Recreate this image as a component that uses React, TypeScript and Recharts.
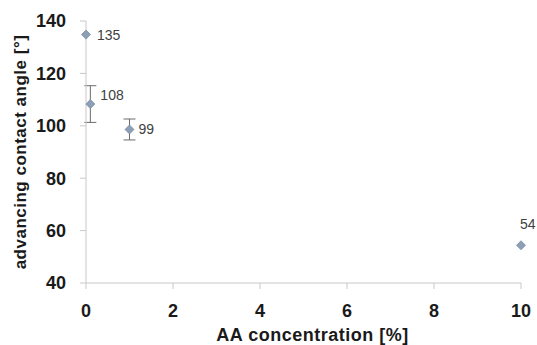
import React from "react";
import {
  ScatterChart,
  Scatter,
  XAxis,
  YAxis,
  ErrorBar,
  Label,
} from "recharts";

// AA concentration [%]
const concentrations = [0, 0.1, 1, 10];
// advancing contact angle [°]
const angles = [134.8, 108.3, 98.6, 54.4];
// error bars too small to see for the first and last point
const errors = [0, 7, 4, 0];
const pointLabels = ["135", "108", "99", "54"];

const xTicks = [0, 2, 4, 6, 8, 10];
const yTicks = [40, 60, 80, 100, 120, 140];

// where each value label sits relative to its marker
const labelSpots = [
  { dx: 11, dy: 0, anchor: "start" },
  { dx: 10, dy: -9, anchor: "start" },
  { dx: 9, dy: 0, anchor: "start" },
  { dx: -1, dy: -21, anchor: "start" },
];

const data = concentrations.map((c, i) => ({
  x: c,
  y: angles[i],
  err: errors[i],
  label: pointLabels[i],
  idx: i,
}));

const font = "'Liberation Sans', Arial, sans-serif";
const markerFill = "#8c9fb5";
const axisGray = "#c8c8c8";
const textDark = "#1a1a1a";

const Diamond = (props: any) => {
  const { cx, cy, payload } = props;
  const r = 4.5;
  const spot = labelSpots[payload.idx];
  return (
    <g>
      <polygon
        points={`${cx},${cy - r} ${cx + r},${cy} ${cx},${cy + r} ${cx - r},${cy}`}
        fill={markerFill}
        stroke="#7a8ea6"
        strokeWidth={0.8}
      />
      <text
        x={cx + spot.dx}
        y={cy + spot.dy}
        textAnchor={spot.anchor}
        dominantBaseline="central"
        fontSize={14}
        fill="#404040"
        fontFamily={font}
      >
        {payload.label}
      </text>
    </g>
  );
};

export default function App() {
  const tickStyle = {
    fontSize: 18,
    fontWeight: 700,
    fill: textDark,
    fontFamily: font,
  };
  const titleStyle = {
    fontSize: 18,
    fontWeight: 700,
    fill: textDark,
    fontFamily: font,
    letterSpacing: 0.5,
  };
  return (
    <div
      style={{
        position: "absolute",
        left: 0,
        top: 0,
        width: 537,
        height: 345,
        background: "#fff",
      }}
    >
      <ScatterChart
        width={537}
        height={345}
        margin={{ top: 21, right: 16, bottom: 4, left: 26 }}
      >
        <XAxis
          type="number"
          dataKey="x"
          domain={[0, 10]}
          ticks={xTicks}
          interval={0}
          tick={tickStyle}
          tickSize={6}
          tickMargin={15}
          axisLine={{ stroke: axisGray }}
          tickLine={{ stroke: axisGray }}
          height={58}
        >
          <Label
            value="AA concentration [%]"
            position="insideBottom"
            offset={0}
            dx={9}
            style={titleStyle}
          />
        </XAxis>
        <YAxis
          type="number"
          dataKey="y"
          domain={[40, 140]}
          ticks={yTicks}
          interval={0}
          tick={tickStyle}
          tickSize={6}
          tickMargin={14}
          axisLine={{ stroke: axisGray }}
          tickLine={{ stroke: axisGray }}
          width={60}
        >
          <Label
            value="advancing contact angle [°]"
            angle={-90}
            position="center"
            dx={-36}
            style={{ ...titleStyle, fontSize: 17, textAnchor: "middle" }}
          />
        </YAxis>
        <Scatter data={data} isAnimationActive={false} shape={() => null}>
          <ErrorBar
            dataKey="err"
            direction="y"
            width={6}
            stroke="#6b6b6b"
            strokeWidth={1}
          />
        </Scatter>
        <Scatter data={data} shape={<Diamond />} isAnimationActive={false} />
      </ScatterChart>
    </div>
  );
}
